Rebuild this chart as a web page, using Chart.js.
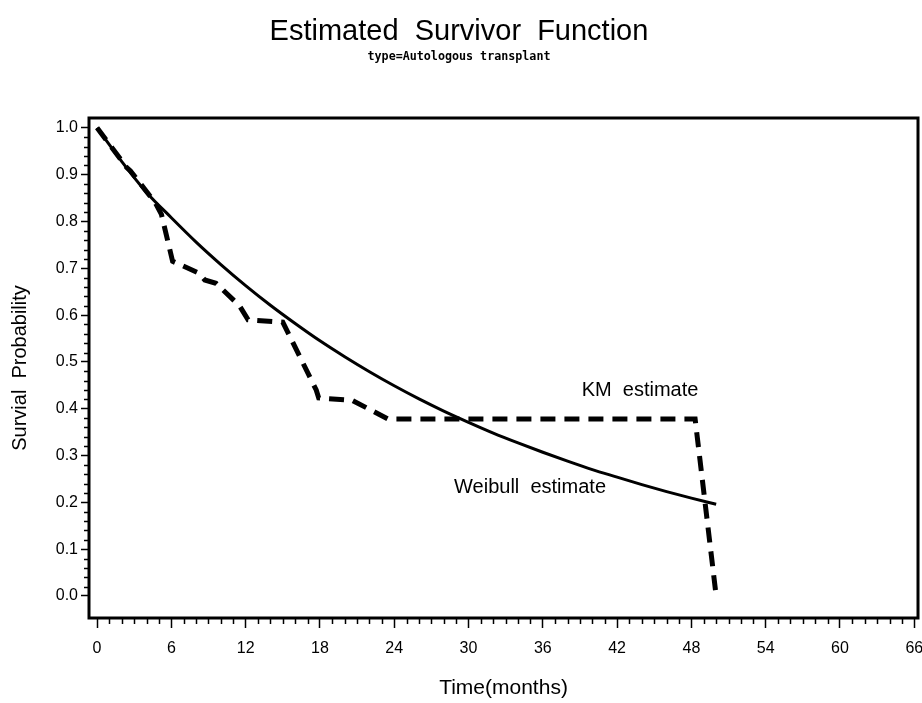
<!DOCTYPE html>
<html><head><meta charset="utf-8">
<script src="https://cdn.jsdelivr.net/npm/chart.js@4.4.1/dist/chart.umd.min.js"></script>
<style>html,body{margin:0;padding:0;background:#fff}#wrap{width:922px;height:703px}</style>
</head><body><div id="wrap"><canvas id="c" width="922" height="703"></canvas></div>
<script>
// ---- data ----
const kmTime = [0, 2.4, 2.7, 4.7, 5.2, 6.1, 8.2, 8.7, 9.6, 11.5, 12.2, 15.0, 17.7, 17.9, 20.6, 23.5, 48.3, 50.0];
const kmSurv = [1.0, 0.915, 0.908, 0.84, 0.815, 0.715, 0.69, 0.675, 0.668, 0.62, 0.59, 0.585, 0.44, 0.423, 0.418, 0.378, 0.378, 0.0];
const wbTime = [0, 2, 4, 6, 8, 10, 12, 14, 16, 18, 20, 22, 24, 26, 28, 30, 32, 34, 36, 38, 40, 42, 44, 46, 48, 50];
const wbSurv = [1.0, 0.928, 0.862, 0.808, 0.756, 0.708, 0.663, 0.621, 0.582, 0.545, 0.511, 0.479, 0.449, 0.421, 0.395, 0.371, 0.348, 0.327, 0.307, 0.288, 0.270, 0.254, 0.238, 0.223, 0.209, 0.196];
const xTickValues = [0, 6, 12, 18, 24, 30, 36, 42, 48, 54, 60, 66];
const yTickValues = [0.0, 0.1, 0.2, 0.3, 0.4, 0.5, 0.6, 0.7, 0.8, 0.9, 1.0];
const yTickLabels = ['0.0','0.1','0.2','0.3','0.4','0.5','0.6','0.7','0.8','0.9','1.0'];
const seriesNames = ['KM estimate', 'Weibull estimate'];
const titleText = 'Estimated  Survivor  Function';
const subtitleText = 'type=Autologous transplant';

// ---- styling / layout ----
const SANS = "'Liberation Sans',Arial,sans-serif";
const labelAnchors = [ {x: 43.85, y: 0.44}, {x: 34.97, y: 0.231} ];
const xMinorStep = 1, yMinorStep = 0.02;

const toXY = (xs, ys) => xs.map((v, i) => ({x: v, y: ys[i]}));

const framePlugin = {
  id: 'frameTicks',
  afterDraw(chart) {
    const {ctx, chartArea: a, scales: {x, y}} = chart;
    ctx.save();
    ctx.strokeStyle = '#000';
    ctx.lineWidth = 1.5;
    ctx.beginPath();
    const xFirst = xTickValues[0], xLast = xTickValues[xTickValues.length - 1];
    for (let m = xFirst; m <= xLast + 1e-9; m += xMinorStep) {
      if (xTickValues.some(t => Math.abs(t - m) < 1e-6)) continue;
      const px = Math.round(x.getPixelForValue(m)) + 0.5;
      ctx.moveTo(px, a.bottom); ctx.lineTo(px, a.bottom + 6);
    }
    const yFirst = yTickValues[0], yLast = yTickValues[yTickValues.length - 1];
    for (let v = yFirst; v <= yLast + 1e-9; v += yMinorStep) {
      if (yTickValues.some(t => Math.abs(t - v) < 1e-6)) continue;
      const py = Math.round(y.getPixelForValue(v)) + 0.5;
      ctx.moveTo(a.left, py); ctx.lineTo(a.left - 5, py);
    }
    ctx.stroke();
    ctx.lineWidth = 3;
    ctx.strokeRect(a.left, a.top, a.right - a.left, a.bottom - a.top);
    ctx.fillStyle = '#000';
    ctx.font = '20px ' + SANS;
    ctx.textAlign = 'center';
    ctx.textBaseline = 'middle';
    seriesNames.forEach((n, i) => {
      const p = labelAnchors[i];
      ctx.fillText(n.replace(' ', '  '), x.getPixelForValue(p.x), y.getPixelForValue(p.y));
    });
    ctx.restore();
  }
};

new Chart(document.getElementById('c'), {
  type: 'line',
  data: {
    datasets: [
      { label: seriesNames[0], data: toXY(kmTime, kmSurv), borderColor: '#000', borderWidth: 5,
        borderDash: [15, 9], borderCapStyle: 'butt', pointRadius: 0, tension: 0, fill: false },
      { label: seriesNames[1], data: toXY(wbTime, wbSurv), borderColor: '#000', borderWidth: 3,
        pointRadius: 0, cubicInterpolationMode: 'monotone', fill: false }
    ]
  },
  options: {
    responsive: false, animation: false, devicePixelRatio: 1,
    layout: { padding: { left: 0, right: 4, top: 0, bottom: 0 } },
    plugins: {
      legend: { display: false }, tooltip: { enabled: false },
      title: { display: true, text: titleText, color: '#000',
        font: { family: SANS, size: 29, weight: 'normal', lineHeight: 1 }, padding: { top: 17, bottom: 0 } },
      subtitle: { display: true, text: subtitleText, color: '#000',
        font: { family: "'DejaVu Sans Mono',monospace", size: 11.7, weight: 'bold', lineHeight: 1 }, padding: { top: 5.1, bottom: 55.2 } }
    },
    scales: {
      x: {
        type: 'linear', min: -0.65, max: 66.3,
        afterBuildTicks: s => { s.ticks = xTickValues.map(v => ({value: v})); },
        afterFit: s => { s.height = 85; s.paddingLeft = 0; s.paddingRight = 0; },
        ticks: { color: '#000', font: { family: SANS, size: 16 }, padding: 11, maxRotation: 0, autoSkip: false },
        grid: { drawOnChartArea: false, drawTicks: true, tickLength: 10, color: '#000', tickWidth: 1.5 },
        border: { display: false },
        title: { display: true, text: 'Time(months)', color: '#000', font: { family: SANS, size: 21 }, padding: { top: 0, bottom: 2 } }
      },
      y: {
        type: 'linear', min: -0.047, max: 1.021,
        afterBuildTicks: s => { s.ticks = yTickValues.map(v => ({value: v})); },
        afterFit: s => { s.width = 89; s.paddingTop = 0; s.paddingBottom = 0; },
        ticks: { color: '#000', font: { family: SANS, size: 16 }, padding: 3,
          callback: (v) => { const i = yTickValues.findIndex(t => Math.abs(t - v) < 1e-6); return i >= 0 ? yTickLabels[i] : ''; } },
        grid: { drawOnChartArea: false, drawTicks: true, tickLength: 8, color: '#000', tickWidth: 1.5 },
        border: { display: false },
        title: { display: true, text: 'Survial  Probability', color: '#000', font: { family: SANS, size: 20 }, padding: { top: 8, bottom: 0 } }
      }
    }
  },
  plugins: [framePlugin]
});
</script></body></html>
